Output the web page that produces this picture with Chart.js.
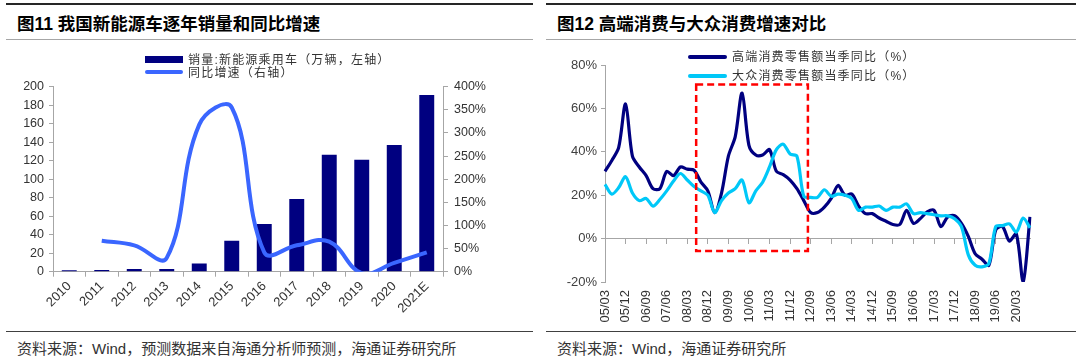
<!DOCTYPE html>
<html lang="zh-CN">
<head>
<meta charset="utf-8">
<script src="https://cdn.jsdelivr.net/npm/chart.js@4.4.1/dist/chart.umd.min.js"></script>
<style>
  body { margin: 0; width: 1080px; height: 361px; overflow: hidden; background: #fff; position: relative;
         font-family: "Liberation Sans", "Noto Sans CJK SC", sans-serif; color: #222; }
  .linha { position: absolute; }
  .topo { top: 3px; height: 2px; background: #262626; }
  .sobTitulo { top: 39px; height: 1px; background: #a6a6a6; }
  .rodapeLinha { top: 331px; height: 1px; background: #404040; }
  .titulo { position: absolute; top: 13px; font-size: 17.5px; line-height: 22px; font-weight: bold; color: #000; white-space: nowrap; }
  .fonte { position: absolute; top: 340px; font-size: 15px; line-height: 18px; color: #333; white-space: nowrap; }
  .legenda { position: absolute; font-size: 12px; line-height: 14px; letter-spacing: 1.2px; color: #333; white-space: nowrap; }
  .amostra { position: absolute; }
  canvas { position: absolute; }
</style>
</head>
<body>

<!-- painel esquerdo -->
<div class="linha topo" style="left:6px;width:527px"></div>
<div class="titulo" style="left:17px">图11 我国新能源车逐年销量和同比增速</div>
<div class="linha sobTitulo" style="left:6px;width:527px"></div>
<canvas id="graficoVendas" width="540" height="290" style="left:0;top:40px"></canvas>
<div class="amostra" style="left:145px;top:56px;width:38px;height:7px;background:#000080"></div>
<div class="legenda" style="left:188px;top:53px">销量:新能源乘用车（万辆，左轴）</div>
<div class="amostra" style="left:145px;top:70px;width:38px;height:4px;border-radius:2px;background:#3a66ff"></div>
<div class="legenda" style="left:188px;top:66px">同比增速（右轴）</div>
<div class="linha rodapeLinha" style="left:6px;width:527px"></div>
<div class="fonte" style="left:17px">资料来源：Wind，预测数据来自海通分析师预测，海通证券研究所</div>

<!-- painel direito -->
<div class="linha topo" style="left:546px;width:530px"></div>
<div class="titulo" style="left:557px">图12 高端消费与大众消费增速对比</div>
<div class="linha sobTitulo" style="left:546px;width:530px"></div>
<canvas id="graficoConsumo" width="540" height="290" style="left:540px;top:40px"></canvas>
<div class="amostra" style="left:688px;top:55px;width:39px;height:4px;border-radius:2px;background:#000080"></div>
<div class="legenda" style="left:732px;top:50px">高端消费零售额当季同比（%）</div>
<div class="amostra" style="left:688px;top:74px;width:39px;height:4px;border-radius:2px;background:#00c8f8"></div>
<div class="legenda" style="left:732px;top:69px">大众消费零售额当季同比（%）</div>
<div class="linha rodapeLinha" style="left:546px;width:530px"></div>
<div class="fonte" style="left:557px">资料来源：Wind，海通证券研究所</div>

<script>
var years = ['2010', '2011', '2012', '2013', '2014', '2015', '2016', '2017', '2018', '2019', '2020', '2021E'];
var nevSales = [1.5, 1.8, 2.8, 3, 9, 33.5, 51.5, 78.5, 126.5, 121, 137, 191];
var nevGrowth = [null, 67, 57, 30, 318, 355, 42, 57, 65, -3, 19, 42];

var quarters = [
    '05/03', '05/06', '05/09', '05/12', '06/03', '06/06', '06/09', '06/12',
    '07/03', '07/06', '07/09', '07/12', '08/03', '08/06', '08/09', '08/12',
    '09/03', '09/06', '09/09', '09/12', '10/03', '10/06', '10/09', '10/12',
    '11/03', '11/06', '11/09', '11/12', '12/03', '12/06', '12/09', '12/12',
    '13/03', '13/06', '13/09', '13/12', '14/03', '14/06', '14/09', '14/12',
    '15/03', '15/06', '15/09', '15/12', '16/03', '16/06', '16/09', '16/12',
    '17/03', '17/06', '17/09', '17/12', '18/03', '18/06', '18/09', '18/12',
    '19/03', '19/06', '19/09', '19/12', '20/03', '20/06', '20/09'
];
var highEndGrowth = [
    31, 36, 42, 62, 38, 33, 29, 23, 23, 31, 29, 33, 32, 31.5, 26, 22,
    12, 21, 38, 47, 67, 43, 38.5, 38.5, 41, 31, 29.5, 27, 23, 17.5, 12, 12,
    14.5, 18.5, 24.5, 20, 20.5, 15, 11.5, 11.5, 9.5, 8, 6.5, 6.5, 13, 7, 9.2, 12.3,
    13, 5.5, 10, 10.5, 7, 1, -7, -9.5, -12.3, 4, 5.5, -1.2, 2.2, -20, 10
];
var massGrowth = [
    25, 20.5, 23.5, 28.5, 21, 17.5, 18.5, 15, 18, 22, 26.5, 30, 27, 24, 22, 20,
    12, 17.5, 21, 23, 27, 16.5, 22, 26, 33, 41, 43.5, 39, 38, 19.5, 19, 19,
    22.5, 19.5, 20.5, 20, 18.5, 13, 14.5, 14.5, 15, 13, 14.5, 14.5, 16, 11.5, 12, 11.5,
    11, 10.5, 10.5, 9.2, 5.5, -7.5, -12.3, -13, -11.5, 5.5, 6, 6.8, 3, 9.5, 5
];
// caixa vermelha tracejada (em unidades do grafico)
var boxQuarters = [13.3, 29.6];
var boxPercent = [71, -5.7];

Chart.defaults.font.family = '"Liberation Sans", "Noto Sans CJK SC", sans-serif';
Chart.defaults.color = '#333';

var graficoVendas = null;
var graficoConsumo = null;

var painelVendas = function () {

    const montar = function () {
        const ctx = document.getElementById('graficoVendas').getContext('2d');
        graficoVendas = new Chart(ctx, {
            data: {
                labels: years,
                datasets: [{
                    type: 'line',
                    label: '同比增速（右轴）',
                    data: nevGrowth,
                    yAxisID: 'y1',
                    borderColor: '#3a66ff',
                    borderWidth: 4,
                    pointRadius: 0,
                    tension: 0.4,
                    order: 0
                }, {
                    type: 'bar',
                    label: '销量:新能源乘用车（万辆，左轴）',
                    data: nevSales,
                    yAxisID: 'y',
                    backgroundColor: '#000080',
                    barPercentage: 0.46,
                    categoryPercentage: 1,
                    order: 1
                }]
            },
            options: {
                responsive: false,
                animation: false,
                layout: { padding: { top: 46.7, left: 0, right: 0, bottom: 0 } },
                plugins: {
                    legend: { display: false },
                    tooltip: { enabled: false }
                },
                scales: {
                    x: {
                        offset: true,
                        border: { color: '#a6a6a6' },
                        grid: { drawOnChartArea: false, tickLength: 5, color: '#a6a6a6', offset: true },
                        ticks: { minRotation: 45, maxRotation: 45, padding: 2, font: { size: 13 } },
                        afterFit: function (scale) { scale.height = 58.3; }
                    },
                    y: {
                        position: 'left',
                        min: 0,
                        max: 200,
                        border: { color: '#a6a6a6' },
                        grid: { drawOnChartArea: false, tickLength: 4, color: '#a6a6a6' },
                        ticks: { stepSize: 20, padding: 5, font: { size: 12.5 } },
                        afterFit: function (scale) { scale.width = 53; }
                    },
                    y1: {
                        position: 'right',
                        min: 0,
                        max: 400,
                        border: { color: '#a6a6a6' },
                        grid: { drawOnChartArea: false, tickLength: 5, color: '#a6a6a6' },
                        ticks: { stepSize: 50, padding: 6, font: { size: 12.5 }, callback: v => v + '%' },
                        afterFit: function (scale) { scale.width = 97; }
                    }
                }
            }
        });
    }

    return {
        montar: montar,
    }
}();

var painelConsumo = function () {

    const caixaDestaque = {
        id: 'caixaDestaque',
        afterDatasetsDraw: function (chart) {
            const x = chart.scales.x;
            const y = chart.scales.y;
            const ctx = chart.ctx;
            const x1 = x.getPixelForValue(boxQuarters[0]);
            const x2 = x.getPixelForValue(boxQuarters[1]);
            const y1 = y.getPixelForValue(boxPercent[0]);
            const y2 = y.getPixelForValue(boxPercent[1]);

            ctx.save();
            ctx.strokeStyle = '#ff0000';
            ctx.lineWidth = 2.5;
            ctx.setLineDash([7, 4]);
            ctx.strokeRect(x1, y1, x2 - x1, y2 - y1);
            ctx.restore();
        }
    };

    const marcaTrimestre = function (c) {
        return c.index % 3 === 0 ? '#a6a6a6' : 'rgba(0,0,0,0)';
    }

    const montar = function () {
        const ctx = document.getElementById('graficoConsumo').getContext('2d');
        graficoConsumo = new Chart(ctx, {
            type: 'line',
            data: {
                labels: quarters,
                datasets: [{
                    label: '高端消费零售额当季同比（%）',
                    data: highEndGrowth,
                    borderColor: '#000080',
                    borderWidth: 3.2,
                    pointRadius: 0,
                    tension: 0.3,
                    order: 1
                }, {
                    label: '大众消费零售额当季同比（%）',
                    data: massGrowth,
                    borderColor: '#00c8f8',
                    borderWidth: 3.2,
                    pointRadius: 0,
                    tension: 0.3,
                    order: 0
                }]
            },
            options: {
                responsive: false,
                animation: false,
                layout: { padding: { top: 25, left: 0, right: 50, bottom: 0 } },
                plugins: {
                    legend: { display: false },
                    tooltip: { enabled: false }
                },
                scales: {
                    x: {
                        position: 'bottom',
                        border: { display: false },
                        grid: { display: false, drawTicks: false },
                        ticks: {
                            autoSkip: false,
                            minRotation: 90,
                            maxRotation: 90,
                            padding: 8,
                            font: { size: 13 },
                            callback: function (v, i) { return i % 3 === 0 ? quarters[i] : null; }
                        },
                        afterFit: function (scale) { scale.height = 48; }
                    },
                    eixoZero: {
                        type: 'category',
                        axis: 'x',
                        position: { y: 0 },
                        border: { display: true, color: '#a6a6a6' },
                        grid: { drawOnChartArea: false, tickLength: 5, color: marcaTrimestre, tickColor: marcaTrimestre },
                        ticks: { display: false }
                    },
                    y: {
                        min: -20,
                        max: 80,
                        border: { color: '#a6a6a6' },
                        grid: { drawOnChartArea: false, tickLength: 4, color: '#a6a6a6' },
                        ticks: { stepSize: 20, padding: 4, color: '#404040', font: { size: 13 }, callback: v => v + '%' },
                        afterFit: function (scale) { scale.width = 65; }
                    }
                }
            },
            plugins: [caixaDestaque]
        });
    }

    return {
        montar: montar,
    }
}();

painelVendas.montar();
painelConsumo.montar();
</script>
</body>
</html>
